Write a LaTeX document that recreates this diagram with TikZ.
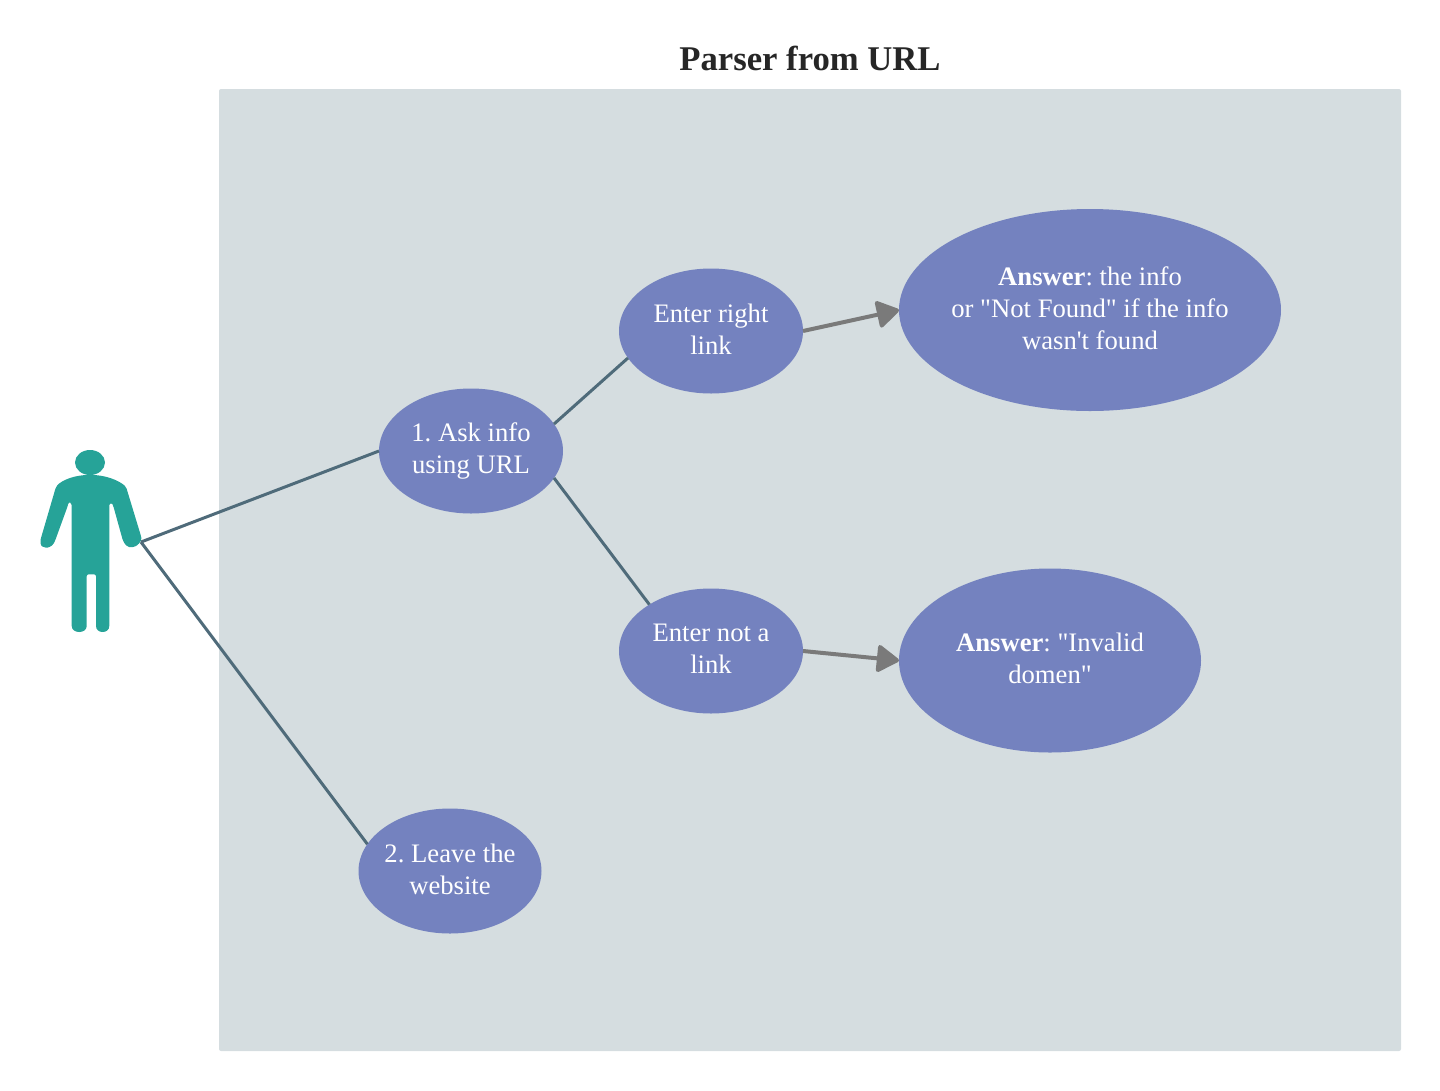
\documentclass[tikz,border=0pt]{standalone}
\usepackage{fontspec}
\setmainfont[Ligatures=TeXOff]{Liberation Serif}
\usetikzlibrary{arrows.meta,shapes.geometric}
\definecolor{panelgray}{HTML}{D5DDE0}
\definecolor{usecase}{HTML}{7482BF}
\definecolor{actorteal}{HTML}{26A398}
\definecolor{assoc}{HTML}{4F6B7A}
\definecolor{flowgray}{HTML}{7A7A7A}

\begin{document}
\begin{tikzpicture}[
  x=0.75pt, y=-0.75pt,
  case/.style={ellipse, fill=usecase, text=white, align=center, inner sep=-15pt, outer sep=0pt,
    execute at begin node={\rule{0pt}{17pt}}, execute at end node={\rule[-3pt]{0pt}{3pt}},
    font=\fontsize{20}{24}\selectfont\frenchspacing},
  small/.style={case, minimum width=138pt, minimum height=93.75pt},
  line/.style={draw=assoc, line width=2.25pt},
  arr/.style={draw=flowgray, line width=3pt, -{Triangle[length=18pt, width=22pt, round]}}
]
\useasboundingbox (0,0) rectangle (1440,1090);
\node[fill=panelgray, rounded corners=1.5pt, minimum width=886.5pt, minimum height=721.5pt, inner sep=0pt] (panel) at (810,570) {};
\node[font=\fontsize{26}{30}\selectfont\bfseries, text=black!85] (title) at (810,58) {Parser from URL};

% actor
\fill[actorteal] (90,462.5) ellipse [x radius=15, y radius=12.5];
\fill[actorteal, rounded corners=1.5pt] (90,475) .. controls (105,475) and (118,480) .. (126,486.7)
  -- (141,536) .. controls (142,541) and (137,547) .. (131,547) .. controls (127,547) and (125,544) .. (123,541)
  -- (113.3,506) .. controls (112,503) and (109.3,503) .. (109.3,507)
  -- (109.3,624) .. controls (109.3,634) and (96,634) .. (96,624) -- (96,574.3) -- (86.7,574.3)
  -- (86.7,624) .. controls (86.7,634) and (71.7,634) .. (71.7,624) -- (71.7,507)
  .. controls (71.7,503) and (69,501) .. (67.7,506) -- (55,541)
  .. controls (52,547) and (47,548) .. (44,547) .. controls (41,546) and (40,542) .. (41,538)
  -- (56,486.7) .. controls (62,480) and (75,475) .. (90,475) -- cycle;
\coordinate (hand) at (141,542);

\node[small] (ask) at (471,451) {1. Ask info\\using URL};
\node[small] (right) at (711,331) {Enter right\\link};
\node[small] (wrong) at (711,651) {Enter not a\\link};
\node[small, minimum width=137.25pt] (leave) at (450,871) {2. Leave the\\website};
\node[case, minimum width=286.5pt, minimum height=151.5pt] (found) at (1090,310) {\textbf{Answer}: the info\\or "Not Found" if the info\\wasn't found};
\node[case, minimum width=226.5pt, minimum height=138pt] (invalid) at (1050,660.5) {\textbf{Answer}: "Invalid\\domen"};

\draw[line] (hand) -- (ask.west);
\draw[line] (hand) -- (leave.162);
\draw[line] (ask.18) -- (right.198);
\draw[line] (ask.-18) -- (wrong.143);
\draw[arr] (right.east) -- (found.west);
\draw[arr] (wrong.east) -- (invalid.west);
\end{tikzpicture}
\end{document}
